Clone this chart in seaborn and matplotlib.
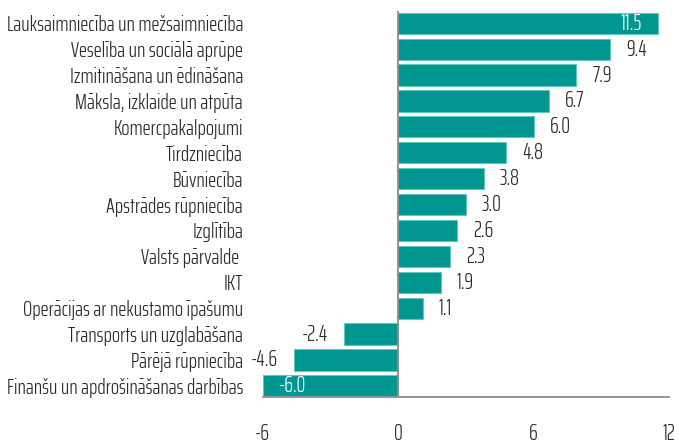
import matplotlib
matplotlib.use('Agg')
import matplotlib.pyplot as plt
import seaborn as sns
import pandas as pd

sectors = [
    'Lauksaimniecība un mežsaimniecība',
    'Veselība un sociālā aprūpe',
    'Izmitināšana un ēdināšana',
    'Māksla, izklaide un atpūta',
    'Komercpakalpojumi',
    'Tirdzniecība',
    'Būvniecība',
    'Apstrādes rūpniecība',
    'Izglītība',
    'Valsts pārvalde ',
    'IKT',
    'Operācijas ar nekustamo īpašumu',
    'Transports un uzglabāšana',
    'Pārējā rūpniecība',
    'Finanšu un apdrošināšanas darbības',
]
values = [11.5, 9.4, 7.9, 6.7, 6.0, 4.8, 3.8, 3.0, 2.6, 2.3, 1.9, 1.1, -2.4, -4.6, -6.0]
x_ticks = [-6, 0, 6, 12]

df = pd.DataFrame({'sector': sectors, 'value': values})

sns.set_style('white')
plt.rcParams['font.family'] = ['Saira ExtraCondensed', 'DejaVu Sans']
plt.rcParams['font.weight'] = 300

teal = '#009690'
text_col = '#2b2b2b'
fs = 15.6

fig = plt.figure(figsize=(6.79, 4.43), dpi=100)
ax = fig.add_axes([0.3866, 0.1038, 0.5987, 0.8712])

sns.barplot(data=df, x='value', y='sector', orient='h', color=teal,
            saturation=1, width=0.82, edgecolor='#62c6c1', linewidth=0.8, ax=ax)

ax.set_xlim(-6, 12)
ax.set_ylim(14.43, -0.47)
ax.axvline(0, color='#8c8c8c', lw=1.3, zorder=5)

# value labels: outside the bar, except the two extremes which sit inside in white
for i, v in enumerate(values):
    inside = v == max(values) or v == min(values)
    label = f'{v:.1f}'
    sign = 1 if v >= 0 else -1
    if inside:
        ax.annotate(label, (v, i), xytext=(-11.5 * sign, 0), textcoords='offset points',
                    ha='right' if v >= 0 else 'left', va='center', color='white', fontsize=16)
    else:
        ax.annotate(label, (v, i), xytext=(11.5 * sign, 0), textcoords='offset points',
                    ha='left' if v >= 0 else 'right', va='center', color=text_col, fontsize=16)

ax.set_xticks(x_ticks)
ax.set_xticklabels([str(t) for t in x_ticks])
ax.set_xlabel('')
ax.set_ylabel('')
ax.tick_params(axis='x', length=0, pad=19, labelsize=16, labelcolor=text_col)
ax.tick_params(axis='y', length=0, pad=14, labelsize=fs, labelcolor=text_col)

for s in ['top', 'right', 'left']:
    ax.spines[s].set_visible(False)
ax.spines['bottom'].set_color('#8c8c8c')
ax.spines['bottom'].set_linewidth(1.3)

fig.savefig('out.png', dpi=100)
